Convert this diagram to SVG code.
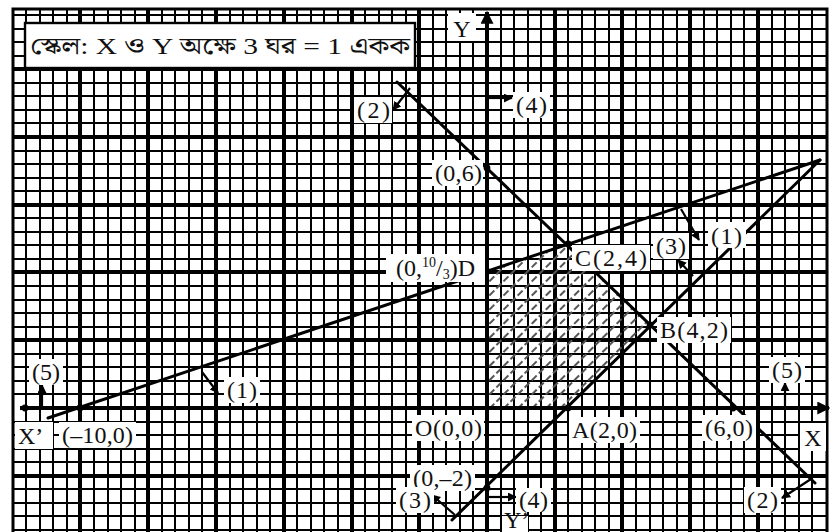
<svg xmlns="http://www.w3.org/2000/svg" width="833" height="532" viewBox="0 0 833 532">
<style>
.lbl{font-family:"Liberation Serif","Times New Roman",serif;font-size:24px;fill:#111}
.bg{fill:#fff}
.minor{stroke:#000;stroke-width:2;fill:none}
.major{stroke:#000;stroke-width:4;fill:none}
.ln{stroke:#000;stroke-width:3;fill:none;stroke-linecap:round}
.ar{stroke:#000;stroke-width:2.2;fill:none;marker-end:url(#ah)}
.ax{stroke:#000;stroke-width:4;fill:none;marker-end:url(#axh)}
.dot{fill:#000}
</style>
<defs>
<pattern id="hatch" patternUnits="userSpaceOnUse" width="10" height="10" patternTransform="rotate(-45)">
<path d="M0 5H10" stroke="#555" stroke-width="1.8" stroke-dasharray="4 3"/>
</pattern>
<marker id="ah" viewBox="0 0 10 10" refX="9" refY="5" markerWidth="9" markerHeight="9" markerUnits="userSpaceOnUse" orient="auto"><path d="M0 0L10 5L0 10z" fill="#000"/></marker>
<marker id="axh" viewBox="0 0 10 10" refX="9" refY="5" markerWidth="13" markerHeight="13" markerUnits="userSpaceOnUse" orient="auto"><path d="M0 0L10 5L0 10z" fill="#000"/></marker>
</defs>
<rect x="0" y="0" width="833" height="532" fill="#fff"/>
<g id="graph-paper">
<path class="minor" d="M26 9V532M40 9V532M53 9V532M67 9V532M94 9V532M108 9V532M121 9V532M135 9V532M162 9V532M175 9V532M189 9V532M202 9V532M230 9V532M243 9V532M257 9V532M270 9V532M297 9V532M311 9V532M324 9V532M338 9V532M365 9V532M379 9V532M392 9V532M406 9V532M433 9V532M446 9V532M460 9V532M473 9V532M501 9V532M514 9V532M528 9V532M541 9V532M568 9V532M582 9V532M595 9V532M609 9V532M636 9V532M650 9V532M663 9V532M677 9V532M704 9V532M717 9V532M731 9V532M744 9V532M772 9V532M785 9V532M799 9V532M812 9V532"/>
<path class="minor" d="M13 15H827M13 29H827M13 42H827M13 56H827M13 83H827M13 96H827M13 110H827M13 123H827M13 151H827M13 164H827M13 178H827M13 191H827M13 218H827M13 232H827M13 245H827M13 259H827M13 286H827M13 300H827M13 313H827M13 327H827M13 354H827M13 367H827M13 381H827M13 394H827M13 422H827M13 435H827M13 449H827M13 462H827M13 489H827M13 503H827M13 516H827M13 530H827"/>
<path class="major" d="M80 9V532M148 9V532M216 9V532M284 9V532M352 9V532M419 9V532M555 9V532M622 9V532M690 9V532M758 9V532M13 69H827M13 137H827M13 205H827M13 272H827M13 340H827M13 476H827"/>
<path d="M13 535V9H827V535" fill="none" stroke="#000" stroke-width="3"/>
</g>
<g id="feasible-region">
<polygon points="487,408 568,408 650,325 568,244 487,271.5" fill="url(#hatch)"/>
</g>
<g id="connectors">
<line class="ax" x1="20" y1="408" x2="829" y2="408"/>
<line class="ax" x1="487" y1="532" x2="487" y2="12"/>
<line class="ln" x1="48" y1="418" x2="820" y2="160"/>
<line class="ln" x1="397" y1="82" x2="815" y2="483"/>
<line class="ln" x1="452" y1="520" x2="820" y2="160"/>
<line class="ar" x1="202" y1="372" x2="218" y2="393"/>
<line class="ar" x1="681" y1="209" x2="699" y2="240"/>
<line class="ar" x1="693" y1="276" x2="678" y2="260"/>
<line class="ar" x1="455" y1="515" x2="432" y2="495"/>
<line class="ar" x1="410" y1="88" x2="393" y2="110"/>
<line class="ar" x1="811" y1="479" x2="782" y2="498"/>
<line class="ar" x1="489" y1="98" x2="512" y2="98"/>
<line class="ar" x1="489" y1="497" x2="516" y2="497"/>
<line class="ar" x1="42" y1="406" x2="42" y2="385"/>
<line class="ar" x1="785" y1="406" x2="785" y2="383"/>
<circle class="dot" cx="25" cy="408" r="3.4"/>
<circle class="dot" cx="80" cy="408" r="3.4"/>
<circle class="dot" cx="568" cy="408" r="3.4"/>
<circle class="dot" cx="733" cy="408" r="3.4"/>
<circle class="dot" cx="650" cy="325" r="3.4"/>
<circle class="dot" cx="568" cy="244" r="3.4"/>
<circle class="dot" cx="487" cy="271.5" r="3.4"/>
<circle class="dot" cx="487" cy="168" r="3.4"/>
<circle class="dot" cx="487" cy="488" r="3.4"/>
</g>
<g id="scale-box">
<rect x="25" y="23" width="390" height="45" fill="#fff" stroke="#000" stroke-width="2.4"/>
<text class="lbl" x="30" y="54" textLength="380" lengthAdjust="spacingAndGlyphs" style="font-family:'Liberation Serif','Noto Serif Bengali','Noto Sans Bengali','Noto Sans',serif">স্কেল: X ও Y অক্ষে 3 ঘর = 1 একক</text>
</g>
<g id="label-Y"><rect class="bg" x="448" y="13" width="28" height="28"/><text class="lbl" x="462" y="37" text-anchor="middle" font-size="26">Y</text></g>
<g id="label-2-top"><rect class="bg" x="354" y="97" width="38" height="26"/><text class="lbl" x="357" y="118" textLength="33">(2)</text></g>
<g id="label-4-top"><rect class="bg" x="513" y="92" width="37" height="26"/><text class="lbl" x="516" y="113" textLength="31">(4)</text></g>
<g id="label-0-6"><rect class="bg" x="432" y="160" width="51" height="26"/><text class="lbl" x="435" y="181" textLength="47">(0,6)</text></g>
<g id="label-D"><rect class="bg" x="386" y="254" width="99" height="28"/><text class="lbl" x="396" y="276">(0,<tspan font-size="14" dy="-9">10</tspan><tspan dy="9">/</tspan><tspan font-size="14" dy="3">3</tspan><tspan dy="-3">)D</tspan></text></g>
<g id="label-C"><rect class="bg" x="572" y="245" width="78" height="26"/><text class="lbl" x="575" y="266" textLength="72">C(2,4)</text></g>
<g id="label-3-right"><rect class="bg" x="653" y="233" width="36" height="26"/><text class="lbl" x="656" y="254" textLength="30">(3)</text></g>
<g id="label-1-right"><rect class="bg" x="708" y="222" width="38" height="26"/><text class="lbl" x="711" y="244" textLength="31">(1)</text></g>
<g id="label-B"><rect class="bg" x="657" y="317" width="74" height="26"/><text class="lbl" x="660" y="338" textLength="68">B(4,2)</text></g>
<g id="label-5-left"><rect class="bg" x="29" y="359" width="34" height="26"/><text class="lbl" x="32" y="380" textLength="28">(5)</text></g>
<g id="label-1-left"><rect class="bg" x="224" y="377" width="36" height="26"/><text class="lbl" x="227" y="398" textLength="30">(1)</text></g>
<g id="label-X-prime"><rect class="bg" x="15" y="422" width="38" height="27"/><text class="lbl" x="18" y="444" font-size="26">X’</text></g>
<g id="label-m10-0"><rect class="bg" x="59" y="422" width="77" height="26"/><text class="lbl" x="62" y="443" textLength="71">(–10,0)</text></g>
<g id="label-O"><rect class="bg" x="412" y="415" width="72" height="26"/><text class="lbl" x="415" y="436" textLength="67">O(0,0)</text></g>
<g id="label-A"><rect class="bg" x="569" y="417" width="71" height="26"/><text class="lbl" x="572" y="438" textLength="65">A(2,0)</text></g>
<g id="label-6-0"><rect class="bg" x="702" y="415" width="54" height="26"/><text class="lbl" x="705" y="436" textLength="48">(6,0)</text></g>
<g id="label-X"><rect class="bg" x="800" y="423" width="26" height="28"/><text class="lbl" x="813" y="446" text-anchor="middle" font-size="26">X</text></g>
<g id="label-5-right"><rect class="bg" x="769" y="357" width="36" height="26"/><text class="lbl" x="772" y="378" textLength="30">(5)</text></g>
<g id="label-0-m2"><rect class="bg" x="410" y="465" width="65" height="26"/><text class="lbl" x="413" y="486" textLength="59">(0,–2)</text></g>
<g id="label-3-bottom"><rect class="bg" x="396" y="487" width="38" height="26"/><text class="lbl" x="399" y="508" textLength="32">(3)</text></g>
<g id="label-4-bottom"><rect class="bg" x="516" y="488" width="35" height="24"/><text class="lbl" x="519" y="508" font-size="22" textLength="29">(4)</text></g>
<g id="label-Y-prime"><rect class="bg" x="502" y="516" width="26" height="16"/><text class="lbl" x="504" y="528" font-size="16">Y’</text></g>
<g id="label-2-bottom"><rect class="bg" x="744" y="487" width="37" height="26"/><text class="lbl" x="747" y="508" textLength="31">(2)</text></g>
</svg>
